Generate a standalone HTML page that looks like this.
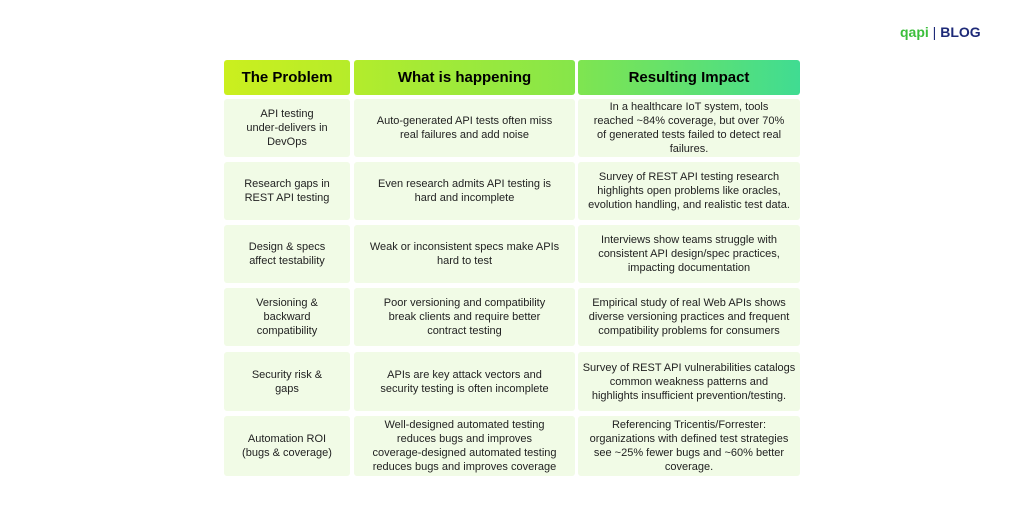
<!DOCTYPE html>
<html><head><style>
body{margin:0;width:1024px;height:522px;background:#fff;position:relative;overflow:hidden;font-family:"Liberation Sans",sans-serif;}
.c{position:absolute;background:#f1fbe6;border-radius:3px;display:flex;align-items:center;justify-content:center;text-align:center;font-size:11px;line-height:14px;color:#222;box-sizing:border-box;padding:0 2px;white-space:nowrap;}
.h{position:absolute;top:60px;height:35px;display:flex;align-items:center;justify-content:center;font-weight:bold;font-size:15px;color:#000;border-radius:3px;}
</style></head><body>
<div style="position:absolute;left:900px;top:24px;font-size:14px;font-weight:bold;color:#1e2a78;"><span style="color:#3bbf3b">qapi</span> <span style="font-weight:normal">|</span> BLOG</div>
<div class="h" style="left:224px;width:126px;background:linear-gradient(90deg,#cbef1e,#b6ec2a)">The Problem</div>
<div class="h" style="left:354px;width:221px;background:linear-gradient(90deg,#b3ec2c,#86e64a)">What is happening</div>
<div class="h" style="left:578px;width:222px;background:linear-gradient(90deg,#7fe550,#40dc92)">Resulting Impact</div>

<div class="c" style="left:224px;top:99px;width:126px;height:58px">API testing<br>under-delivers in<br>DevOps</div>
<div class="c" style="left:354px;top:99px;width:221px;height:58px">Auto-generated API tests often miss<br>real failures and add noise</div>
<div class="c" style="left:578px;top:99px;width:222px;height:58px">In a healthcare IoT system, tools<br>reached ~84% coverage, but over 70%<br>of generated tests failed to detect real<br>failures.</div>

<div class="c" style="left:224px;top:162px;width:126px;height:58px">Research gaps in<br>REST API testing</div>
<div class="c" style="left:354px;top:162px;width:221px;height:58px">Even research admits API testing is<br>hard and incomplete</div>
<div class="c" style="left:578px;top:162px;width:222px;height:58px">Survey of REST API testing research<br>highlights open problems like oracles,<br>evolution handling, and realistic test data.</div>

<div class="c" style="left:224px;top:225px;width:126px;height:58px">Design &amp; specs<br>affect testability</div>
<div class="c" style="left:354px;top:225px;width:221px;height:58px">Weak or inconsistent specs make APIs<br>hard to test</div>
<div class="c" style="left:578px;top:225px;width:222px;height:58px">Interviews show teams struggle with<br>consistent API design/spec practices,<br>impacting documentation</div>

<div class="c" style="left:224px;top:288px;width:126px;height:58px">Versioning &amp;<br>backward<br>compatibility</div>
<div class="c" style="left:354px;top:288px;width:221px;height:58px">Poor versioning and compatibility<br>break clients and require better<br>contract testing</div>
<div class="c" style="left:578px;top:288px;width:222px;height:58px">Empirical study of real Web APIs shows<br>diverse versioning practices and frequent<br>compatibility problems for consumers</div>

<div class="c" style="left:224px;top:352px;width:126px;height:59px">Security risk &amp;<br>gaps</div>
<div class="c" style="left:354px;top:352px;width:221px;height:59px">APIs are key attack vectors and<br>security testing is often incomplete</div>
<div class="c" style="left:578px;top:352px;width:222px;height:59px">Survey of REST API vulnerabilities catalogs<br>common weakness patterns and<br>highlights insufficient prevention/testing.</div>

<div class="c" style="left:224px;top:416px;width:126px;height:60px">Automation ROI<br>(bugs &amp; coverage)</div>
<div class="c" style="left:354px;top:416px;width:221px;height:60px">Well-designed automated testing<br>reduces bugs and improves<br>coverage-designed automated testing<br>reduces bugs and improves coverage</div>
<div class="c" style="left:578px;top:416px;width:222px;height:60px">Referencing Tricentis/Forrester:<br>organizations with defined test strategies<br>see ~25% fewer bugs and ~60% better<br>coverage.</div>
</body></html>
